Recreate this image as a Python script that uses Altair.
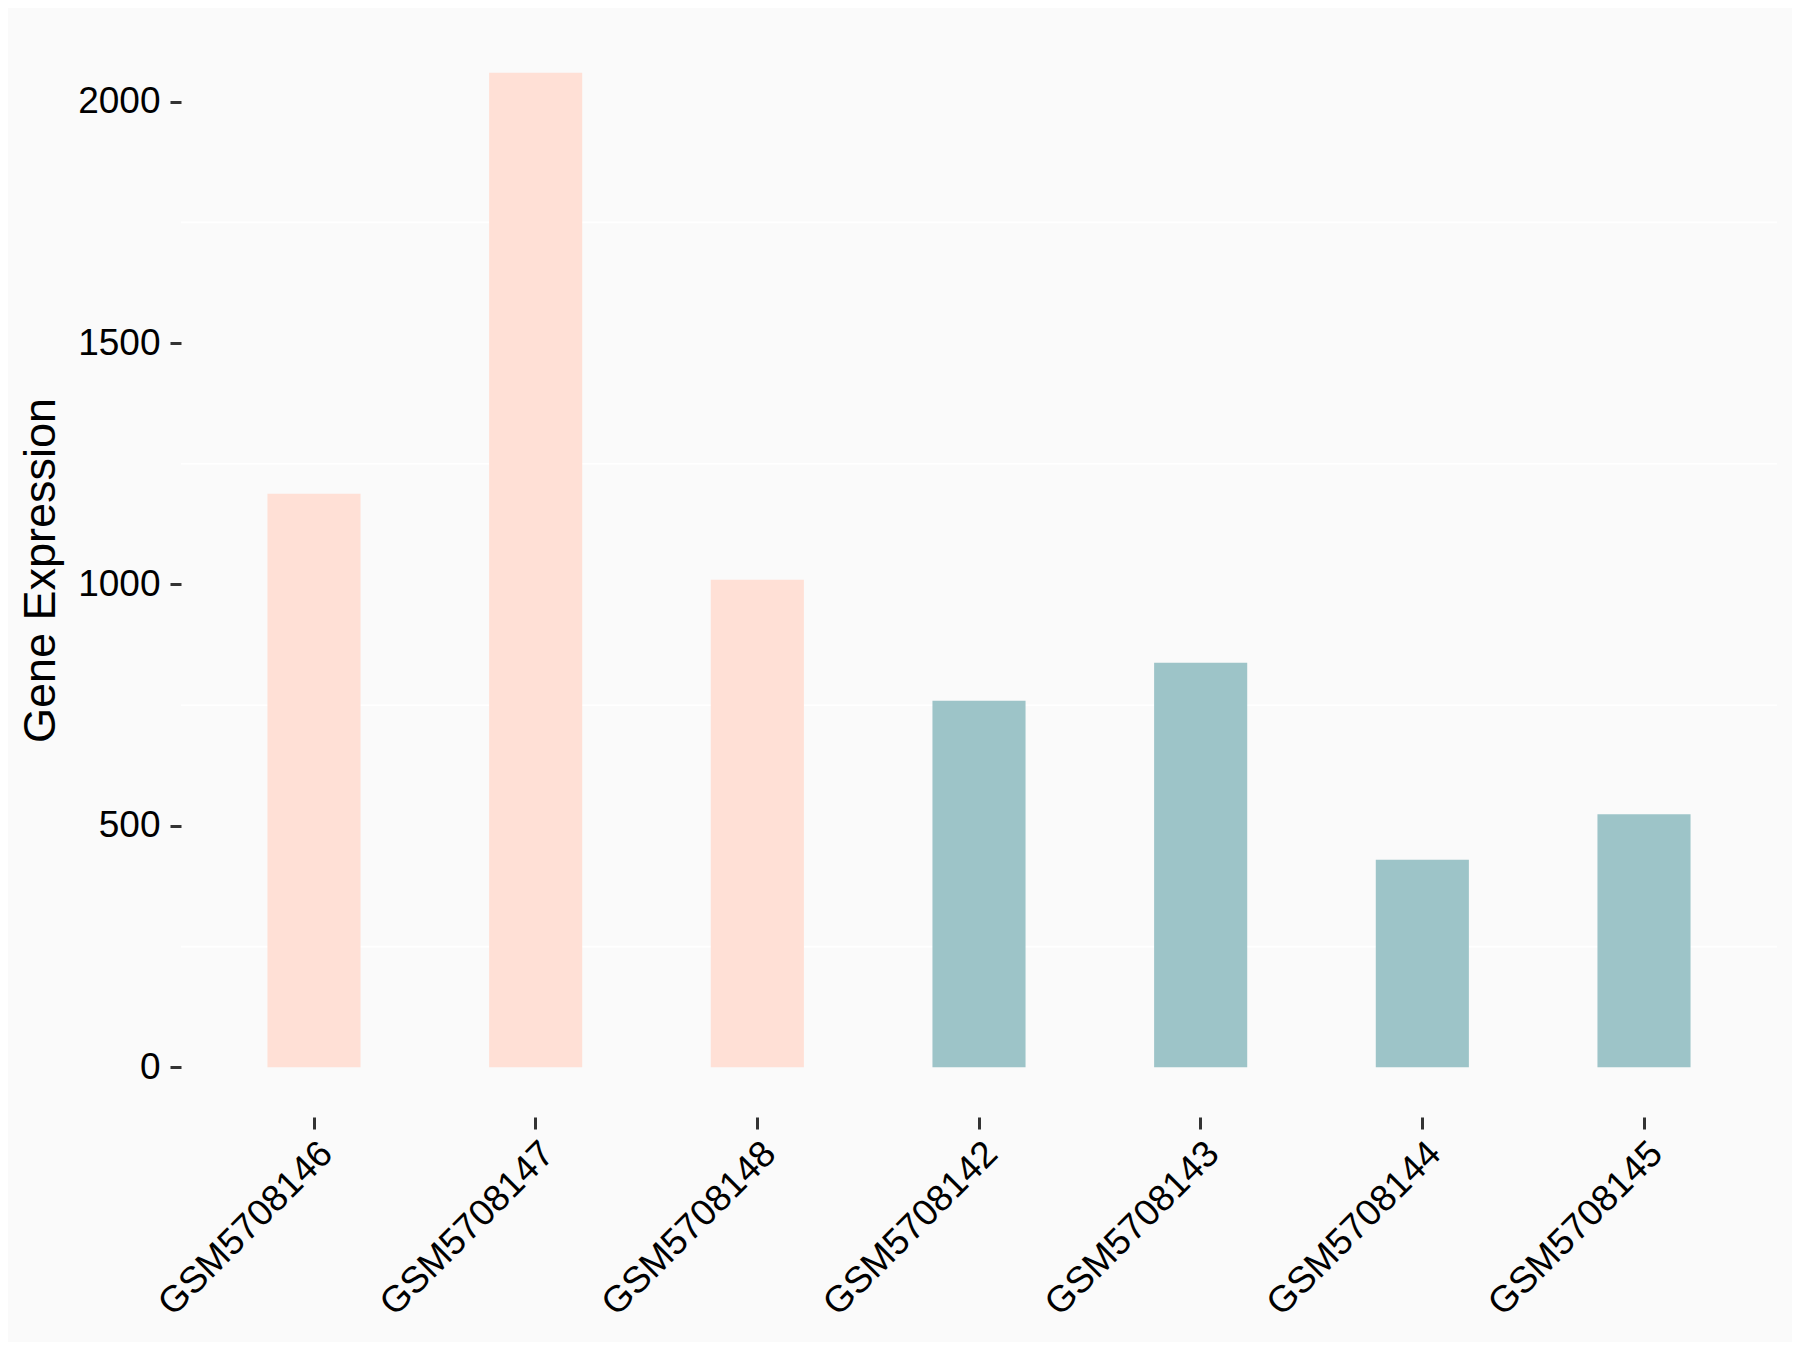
import altair as alt
import pandas as pd

samples = ["GSM5708146", "GSM5708147", "GSM5708148", "GSM5708142",
           "GSM5708143", "GSM5708144", "GSM5708145"]
expression = [1188, 2060, 1010, 759, 838, 430, 524]
groups = ["A", "A", "A", "B", "B", "B", "B"]
group_colors = ["#FFE0D6", "#9DC4C8"]
y_ticks = [0, 500, 1000, 1500, 2000]
minor_grid = [250, 750, 1250, 1750]

df = pd.DataFrame({"sample": samples, "value": expression, "group": groups})
grid_df = pd.DataFrame({"g": minor_grid})

y_scale = alt.Scale(domain=[-103, 2163], nice=False, zero=False)

grid = alt.Chart(grid_df).mark_rule(color="#FFFFFF", strokeWidth=1.6).encode(
    y=alt.Y("g:Q", scale=y_scale)
)

bars = alt.Chart(df).mark_bar().encode(
    x=alt.X("sample:N", sort=samples, title=None,
            scale=alt.Scale(paddingInner=0.58, paddingOuter=0.39),
            axis=alt.Axis(labelAngle=-45, labelAlign="right", labelBaseline="top",
                          labelFontSize=37, labelColor="#000000", labelFont="Liberation Sans",
                          tickColor="#333333", tickWidth=3, tickSize=12, domain=False,
                          labelPadding=6, grid=False, labelLimit=0)),
    y=alt.Y("value:Q", scale=y_scale, title="Gene Expression",
            axis=alt.Axis(values=y_ticks, format="d", labelFontSize=37, labelColor="#000000",
                          labelFont="Liberation Sans", tickColor="#333333", tickWidth=3,
                          tickSize=11, domain=False, grid=False, labelPadding=10,
                          titleFontSize=45, titleFont="Liberation Sans", titleFontWeight="normal",
                          titleColor="#000000", titlePadding=14)),
    color=alt.Color("group:N", scale=alt.Scale(domain=["A", "B"], range=group_colors),
                    legend=None),
)

chart = alt.layer(grid, bars).properties(
    width=1596, height=1094,
    autosize=alt.AutoSizeParams(type="none"),
    padding={"left": 173, "top": 15, "right": 15, "bottom": 225},
    background="#FAFAFA",
).configure_view(stroke=None, fill="#FAFAFA")

chart.save("out.html", embed_options={"renderer": "svg", "actions": False})
